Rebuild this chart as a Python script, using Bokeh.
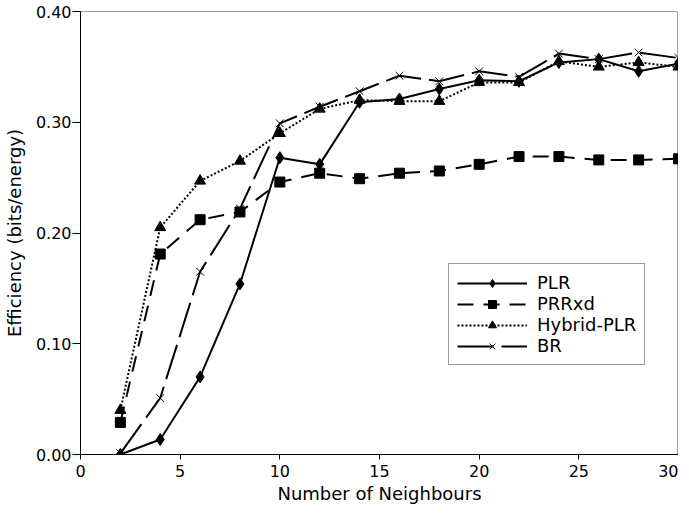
from bokeh.plotting import figure
from bokeh.models import FixedTicker, NumeralTickFormatter, Range1d, Legend, LegendItem
from bokeh.embed import file_html
from bokeh.resources import INLINE

neighbours = [2, 4, 6, 8, 10, 12, 14, 16, 18, 20, 22, 24, 26, 28, 30]
plr = [0.000, 0.0135, 0.070, 0.154, 0.268, 0.262, 0.318, 0.321, 0.330, 0.338, 0.337, 0.354, 0.357, 0.346, 0.353]
prrxd = [0.029, 0.181, 0.212, 0.219, 0.246, 0.254, 0.249, 0.254, 0.256, 0.262, 0.269, 0.269, 0.266, 0.266, 0.267]
hybrid_plr = [0.040, 0.205, 0.247, 0.265, 0.290, 0.312, 0.320, 0.319, 0.319, 0.336, 0.336, 0.355, 0.350, 0.354, 0.350]
br = [0.001, 0.051, 0.165, 0.222, 0.299, 0.314, 0.328, 0.342, 0.337, 0.346, 0.341, 0.362, 0.357, 0.363, 0.358]

x_ticks = [0, 5, 10, 15, 20, 25, 30]
y_ticks = [0.0, 0.1, 0.2, 0.3, 0.4]

FONT = "DejaVu Sans"

p = figure(width=678, height=506, output_backend="svg", toolbar_location=None,
           x_range=Range1d(0, 30), y_range=Range1d(0, 0.40),
           min_border_left=76, min_border_right=0, min_border_top=11, min_border_bottom=42)
p.xgrid.visible = False
p.ygrid.visible = False
p.outline_line_color = "#a0a0a0"
p.outline_line_width = 1
p.background_fill_color = "white"
p.border_fill_color = "white"

p.xaxis.ticker = FixedTicker(ticks=x_ticks)
p.yaxis.ticker = FixedTicker(ticks=y_ticks)
p.yaxis.formatter = NumeralTickFormatter(format="0.00")
p.xaxis.axis_label = "Number of Neighbours"
p.yaxis.axis_label = "Efficiency (bits/energy)"
for ax in (p.xaxis, p.yaxis):
    ax.axis_label_text_font = FONT
    ax.axis_label_text_font_size = "18px"
    ax.axis_label_text_font_style = "normal"
    ax.axis_label_text_color = "black"
    ax.major_label_text_font = FONT
    ax.major_label_text_font_size = "16px"
    ax.major_label_text_color = "black"
    ax.axis_line_color = "black"
    ax.major_tick_line_color = "black"
    ax.minor_tick_line_color = None
    ax.major_tick_in = 0
p.xaxis.major_tick_out = 5
p.yaxis.major_tick_out = 8
p.xaxis.major_label_standoff = 5
p.yaxis.major_label_standoff = 1
p.xaxis.axis_label_standoff = 3
p.yaxis.axis_label_standoff = 8

series = [
    ("PLR", plr, "solid", 2, "diamond", 12),
    ("PRRxd", prrxd, "16 10", 2, "square", 10),
    ("Hybrid-PLR", hybrid_plr, "2 2", 2, "triangle", 11),
    ("BR", br, "36 8", 2, "x", 11),
]
items = []
for name, vals, dash, lw, marker, size in series:
    ln = p.line(neighbours, vals, line_color="black", line_width=lw, line_dash=dash)
    if marker == "x":
        sc = p.scatter(neighbours, vals, marker=marker, size=size, line_color="black", line_width=1)
    else:
        sc = p.scatter(neighbours, vals, marker=marker, size=size, fill_color="black", line_color="black")
    items.append(LegendItem(label=name, renderers=[ln, sc]))

legend = Legend(items=items, location=(368, 89))
legend.label_text_font = FONT
legend.label_text_font_size = "18px"
legend.label_text_color = "black"
legend.glyph_width = 70
legend.glyph_height = 20
legend.label_height = 20
legend.label_standoff = 10
legend.spacing = 0
legend.padding = 8
legend.margin = 0
legend.border_line_color = "#333333"
legend.border_line_width = 1
legend.background_fill_alpha = 1
p.add_layout(legend)

open("out.html", "w").write(file_html(p, INLINE))
